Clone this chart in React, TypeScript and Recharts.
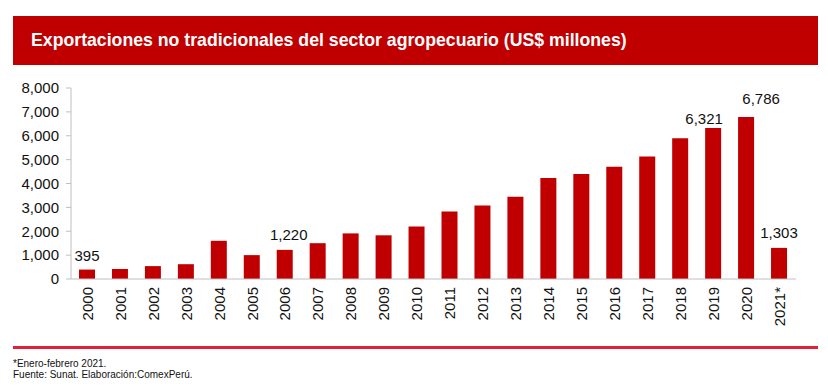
import React from 'react';
import { BarChart, Bar, XAxis, YAxis, LabelList } from 'recharts';

const years = [
  '2000', '2001', '2002', '2003', '2004', '2005', '2006', '2007', '2008', '2009', '2010',
  '2011', '2012', '2013', '2014', '2015', '2016', '2017', '2018', '2019', '2020', '2021*',
];
const exportValues = [
  395, 420, 540, 620, 1600, 1000, 1220, 1500, 1910, 1830, 2200,
  2830, 3080, 3450, 4230, 4400, 4700, 5130, 5900, 6321, 6786, 1303,
];
const labeledYears = ['2000', '2006', '2019', '2020', '2021*'];
const yTicks = [0, 1000, 2000, 3000, 4000, 5000, 6000, 7000, 8000];

const title = 'Exportaciones no tradicionales del sector agropecuario (US$ millones)';
const footnotes = ['*Enero-febrero 2021.', 'Fuente: Sunat. Elaboración:ComexPerú.'];

const RED = '#C00000';
const FONT = '"Liberation Sans", Arial, sans-serif';

const data = years.map((year, i) => ({ year, value: exportValues[i] }));

// label nudges, the reference has hand-placed labels
const labelShift: Record<string, [number, number]> = {
  '2000': [0, 9],
  '2006': [4, 10],
  '2019': [-9, 4],
  '2020': [15, 13],
  '2021*': [0, 10],
};

const fmt = (v: number) => v.toLocaleString('en-US');

const YearTick = ({ x, y, payload }: any) => (
  <text
    x={x}
    y={y}
    transform={`rotate(-90, ${x}, ${y})`}
    textAnchor="end"
    dy="0.35em"
    fontSize={15}
    fontFamily={FONT}
    fill="#111"
  >
    {payload.value}
  </text>
);

const ValueLabel = (props: any) => {
  const { x, y, width, value, index } = props;
  const year = years[index];
  if (!labeledYears.includes(year)) return null;
  const [dx, gap] = labelShift[year] || [0, 8];
  return (
    <text
      x={x + width / 2 + dx}
      y={y - gap}
      textAnchor="middle"
      fontSize={15}
      fontFamily={FONT}
      fill="#111"
    >
      {fmt(value)}
    </text>
  );
};

export default function App() {
  return (
    <div style={{ position: 'absolute', left: 0, top: 0, width: 828, height: 390, background: '#fff', fontFamily: FONT }}>
      {/* title band */}
      <div style={{ position: 'absolute', left: 13, top: 16, width: 805, height: 49, background: RED }} />
      <div
        style={{
          position: 'absolute',
          left: 31,
          top: 26,
          color: '#fff',
          fontWeight: 'bold',
          fontSize: 17.7,
          lineHeight: '28px',
          whiteSpace: 'nowrap',
        }}
      >
        {title}
      </div>

      <div style={{ position: 'absolute', left: 0, top: 0 }}>
        <BarChart
          width={828}
          height={390}
          data={data}
          margin={{ top: 88, right: 32, bottom: 0, left: 0 }}
          barCategoryGap={0}
        >
          <YAxis
            width={71}
            domain={[0, 8000]}
            ticks={yTicks}
            interval={0}
            tickFormatter={fmt}
            axisLine={{ stroke: '#bfbfbf' }}
            tickLine={{ stroke: '#bfbfbf' }}
            tickSize={5}
            tickMargin={7}
            tick={{ fontSize: 15, fontFamily: FONT, fill: '#111' }}
          />
          <XAxis
            dataKey="year"
            height={111}
            interval={0}
            axisLine={{ stroke: '#bfbfbf' }}
            tickLine={false}
            tickSize={0}
            tickMargin={8}
            tick={<YearTick />}
          />
          <Bar dataKey="value" fill={RED} barSize={16} isAnimationActive={false}>
            <LabelList dataKey="value" content={<ValueLabel />} />
          </Bar>
        </BarChart>
      </div>

      {/* footer rule and notes */}
      <div style={{ position: 'absolute', left: 13, top: 346, width: 805, height: 2.5, background: '#E0203C' }} />
      {footnotes.map((line, i) => (
        <div
          key={line}
          style={{
            position: 'absolute',
            left: 13,
            top: 358.5 + i * 11,
            fontSize: 10,
            lineHeight: '10px',
            color: '#111',
            whiteSpace: 'nowrap',
          }}
        >
          {line}
        </div>
      ))}
    </div>
  );
}
